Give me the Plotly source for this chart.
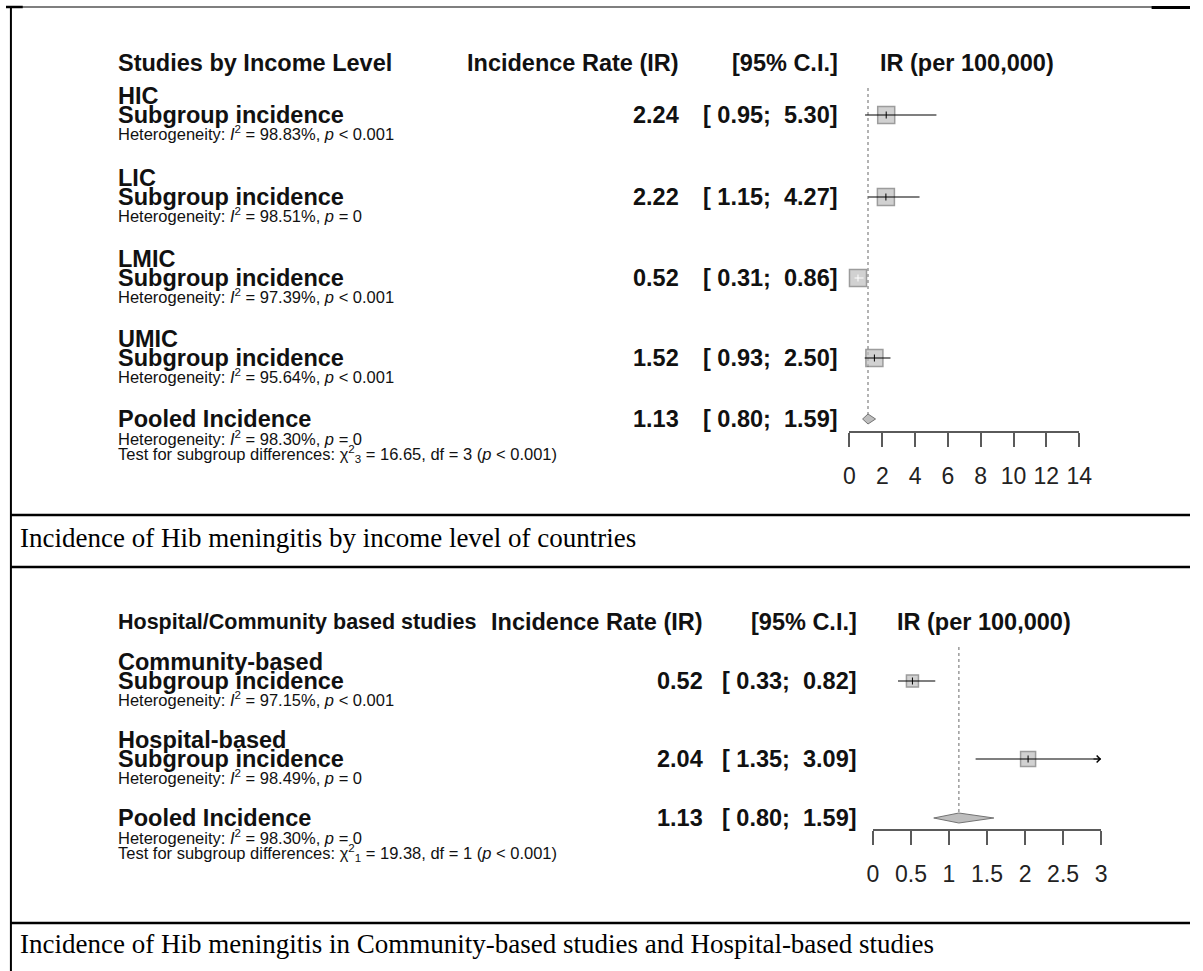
import plotly.graph_objects as go

W, H = 1203, 971
SANS = "Liberation Sans, Arial, sans-serif"
SERIF = "Liberation Serif, Times New Roman, serif"

# ---- Panel 1: studies by income level ----
inc_groups = ["HIC", "LIC", "LMIC", "UMIC"]
inc_ir = [2.24, 2.22, 0.52, 1.52]
inc_lo = [0.95, 1.15, 0.31, 0.93]
inc_hi = [5.30, 4.27, 0.86, 2.50]
inc_i2 = [98.83, 98.51, 97.39, 95.64]
inc_p = ["< 0.001", "= 0", "< 0.001", "< 0.001"]
inc_pooled = [1.13, 0.80, 1.59]
inc_pooled_i2, inc_pooled_p = 98.30, "= 0"
inc_chi2, inc_df, inc_test_p = 16.65, 3, "< 0.001"
inc_ticks = [0, 2, 4, 6, 8, 10, 12, 14]

# ---- Panel 2: hospital / community based studies ----
set_groups = ["Community-based", "Hospital-based"]
set_ir = [0.52, 2.04]
set_lo = [0.33, 1.35]
set_hi = [0.82, 3.09]
set_i2 = [97.15, 98.49]
set_p = ["< 0.001", "= 0"]
set_pooled = [1.13, 0.80, 1.59]
set_pooled_i2, set_pooled_p = 98.30, "= 0"
set_chi2, set_df, set_test_p = 19.38, 1, "< 0.001"
set_ticks = [0, 0.5, 1, 1.5, 2, 2.5, 3]
set_ticktext = ["0", "0.5", "1", "1.5", "2", "2.5", "3"]

captions = [
    "Incidence of Hib meningitis by income level of countries",
    "Incidence of Hib meningitis in Community-based studies and Hospital-based studies",
]

# ---- layout geometry (pixels) ----
PANELS = [
    dict(title="Studies by Income Level", groups=inc_groups, ir=inc_ir, lo=inc_lo,
         hi=inc_hi, i2=inc_i2, p=inc_p, pooled=inc_pooled, pi2=inc_pooled_i2,
         pp=inc_pooled_p, chi2=inc_chi2, df=inc_df, tp=inc_test_p,
         ticks=inc_ticks, ticktext=[str(t) for t in inc_ticks],
         xaxis="x", ax_px=(857, 1090.4), header_y=63, label_y=[96, 178, 259, 339],
         pooled_y=419, axis_y=432, ref_top=88, ir_right=686, ci_right=847,
         plot_left=886, title_size=23.5, sq=[17, 17, 17, 17], diamond_h=5),
    dict(title="Hospital/Community based studies", groups=set_groups, ir=set_ir,
         lo=set_lo, hi=set_hi, i2=set_i2, p=set_p, pooled=set_pooled,
         pi2=set_pooled_i2, pp=set_pooled_p, chi2=set_chi2, df=set_df,
         tp=set_test_p, ticks=set_ticks, ticktext=set_ticktext,
         xaxis="x2", ax_px=(880.8, 1112.7), header_y=622, label_y=[662, 740],
         pooled_y=818, axis_y=830, ref_top=647, ir_right=710, ci_right=867,
         plot_left=903, title_size=21.5, sq=[12, 15], diamond_h=5),
]
TEXT_X = 112
BOLD = 23.5
SMALL = 16.5
BOX_FILL, BOX_LINE = "#BEBEBE", "#737373"


def X(px):
    return px / W


def Y(py):
    return 1 - py / H


def nb(s):
    return s.replace(" ", "\u00a0").replace("<", "&lt;")


annotations = []


def label(x, y, s, size, bold=False, anchor="left", family=SANS, color="#111"):
    annotations.append(dict(
        x=X(x), y=Y(y), xref="paper", yref="paper", showarrow=False,
        text=f"<b>{s}</b>" if bold else s, xanchor=anchor, yanchor="middle",
        font=dict(size=size, family=family, color=color)))


fig = go.Figure()
layout_axes = {}

for k, P in enumerate(PANELS):
    xa = P["xaxis"]
    lo_ax, hi_ax = P["ticks"][0], P["ticks"][-1]
    px_per_unit = (P["ax_px"][1] - P["ax_px"][0]) / (hi_ax - lo_ax)

    # column headers
    hy = P["header_y"]
    label(TEXT_X, hy, P["title"], P["title_size"], bold=True)
    label(P["ir_right"], hy, "Incidence Rate (IR)", BOLD, bold=True, anchor="right")
    label(P["ci_right"], hy, "[95% C.I.]", BOLD, bold=True, anchor="right")
    label(P["plot_left"], hy, "IR (per 100,000)", BOLD, bold=True)

    row_y = []
    for i, g in enumerate(P["groups"]):
        ly = P["label_y"][i]
        vy = ly + 19
        row_y.append(vy)
        label(TEXT_X, ly, g, BOLD, bold=True)
        label(TEXT_X, vy, "Subgroup incidence", BOLD, bold=True)
        label(TEXT_X, ly + 37,
              f"Heterogeneity: <i>I</i><sup>2</sup> = {P['i2'][i]:.2f}%, <i>p</i> {nb(P['p'][i])}",
              SMALL)
        label(P["ir_right"], vy, f"{P['ir'][i]:.2f}", BOLD, bold=True, anchor="right")
        label(P["ci_right"], vy, nb(f"[{P['lo'][i]:5.2f}; {P['hi'][i]:5.2f}]"), BOLD,
              bold=True, anchor="right")

    py_ = P["pooled_y"]
    est, plo, phi = P["pooled"]
    label(TEXT_X, py_, "Pooled Incidence", BOLD, bold=True)
    label(TEXT_X, py_ + 19,
          f"Heterogeneity: <i>I</i><sup>2</sup> = {P['pi2']:.2f}%, <i>p</i> {nb(P['pp'])}",
          SMALL)
    label(TEXT_X, py_ + 35,
          f"Test for subgroup differences: χ<sup>2</sup><sub>{P['df']}</sub> = {P['chi2']:.2f}, "
          f"df = {P['df']} (<i>p</i> {nb(P['tp'])})", SMALL)
    label(P["ir_right"], py_, f"{est:.2f}", BOLD, bold=True, anchor="right")
    label(P["ci_right"], py_, nb(f"[{plo:5.2f}; {phi:5.2f}]"), BOLD, bold=True,
          anchor="right")

    # dotted reference line at the pooled estimate
    fig.add_trace(go.Scatter(x=[est, est], y=[P["ref_top"], py_ - 2], xaxis=xa, yaxis="y",
                             mode="lines", line=dict(color="#9A9A9A", width=1.5, dash="dot"),
                             hoverinfo="skip", showlegend=False))

    # subgroup squares
    fig.add_trace(go.Scatter(
        x=P["ir"], y=row_y, xaxis=xa, yaxis="y", mode="markers", cliponaxis=False,
        marker=dict(symbol="square", size=P["sq"], color=BOX_FILL,
                    line=dict(color=BOX_LINE, width=1.5)),
        hoverinfo="skip", showlegend=False))

    # confidence intervals (white when hidden inside the square)
    for i in range(len(P["groups"])):
        half = P["sq"][i] / 2
        inside = ((P["ir"][i] - P["lo"][i]) * px_per_unit < half and
                  (P["hi"][i] - P["ir"][i]) * px_per_unit < half)
        col = "white" if inside else "black"
        if P["hi"][i] > hi_ax:
            fig.add_trace(go.Scatter(x=[P["lo"][i], hi_ax], y=[row_y[i], row_y[i]], xaxis=xa,
                                     yaxis="y", mode="lines", line=dict(color=col, width=1.2),
                                     hoverinfo="skip", showlegend=False))
            annotations.append(dict(x=hi_ax, y=row_y[i], ax=hi_ax - 0.12, ay=row_y[i],
                                    xref=xa, yref="y", axref=xa, ayref="y",
                                    showarrow=True, arrowhead=4, arrowsize=1.1,
                                    arrowwidth=1.2, arrowcolor=col, text=""))
        else:
            fig.add_trace(go.Scatter(x=[P["lo"][i], P["hi"][i]], y=[row_y[i], row_y[i]],
                                     xaxis=xa, yaxis="y", mode="lines", cliponaxis=False,
                                     line=dict(color=col, width=1.2),
                                     hoverinfo="skip", showlegend=False))
        fig.add_trace(go.Scatter(x=[P["ir"][i]], y=[row_y[i]], xaxis=xa, yaxis="y",
                                 mode="markers", cliponaxis=False,
                                 marker=dict(symbol="line-ns", size=5,
                                             line=dict(color=col, width=1)),
                                 hoverinfo="skip", showlegend=False))

    # pooled diamond
    dh = P["diamond_h"]
    fig.add_trace(go.Scatter(x=[plo, est, phi, est, plo], y=[py_, py_ - dh, py_, py_ + dh, py_],
                             xaxis=xa, yaxis="y", mode="lines", fill="toself",
                             fillcolor=BOX_FILL, line=dict(color=BOX_LINE, width=1),
                             hoverinfo="skip", showlegend=False))

    key = "xaxis" if xa == "x" else "xaxis2"
    layout_axes[key] = dict(
        domain=[X(P["ax_px"][0]), X(P["ax_px"][1])], range=[lo_ax, hi_ax],
        anchor="free", position=Y(P["axis_y"]), side="bottom",
        showline=True, linecolor="#5A5A5A", linewidth=1.5, ticks="outside", ticklen=14,
        tickwidth=1.5, tickcolor="#5A5A5A", tickvals=P["ticks"], ticktext=P["ticktext"],
        tickfont=dict(size=23, family=SANS, color="#222"), ticklabelstandoff=10,
        showgrid=False, zeroline=False, fixedrange=True)

# captions
label(12, 538, captions[0], 27, family=SERIF, color="#000")
label(12, 944, captions[1], 27, family=SERIF, color="#000")

# table rules
shapes = []


def rule(x0, y0, x1, y1, w):
    shapes.append(dict(type="line", xref="paper", yref="paper", x0=X(x0), y0=Y(y0),
                       x1=X(x1), y1=Y(y1), line=dict(color="black", width=w)))


rule(0, 7, W, 7, 1.2)
rule(0, 7, 17, 7, 2.5)
rule(1164, 7.5, W, 7.5, 3)
rule(5, 7, 5, H, 2)
rule(5, 515, W, 515, 2.5)
rule(5, 567, W, 567, 2.5)
rule(5, 923, W, 923, 2.5)

fig.update_layout(
    width=W, height=H, margin=dict(l=0, r=0, t=0, b=0, pad=0),
    paper_bgcolor="white", plot_bgcolor="rgba(0,0,0,0)",
    yaxis=dict(domain=[0, 1], range=[H, 0], visible=False, fixedrange=True),
    annotations=annotations, shapes=shapes, showlegend=False,
    **layout_axes)

fig.write_html("out.html")
